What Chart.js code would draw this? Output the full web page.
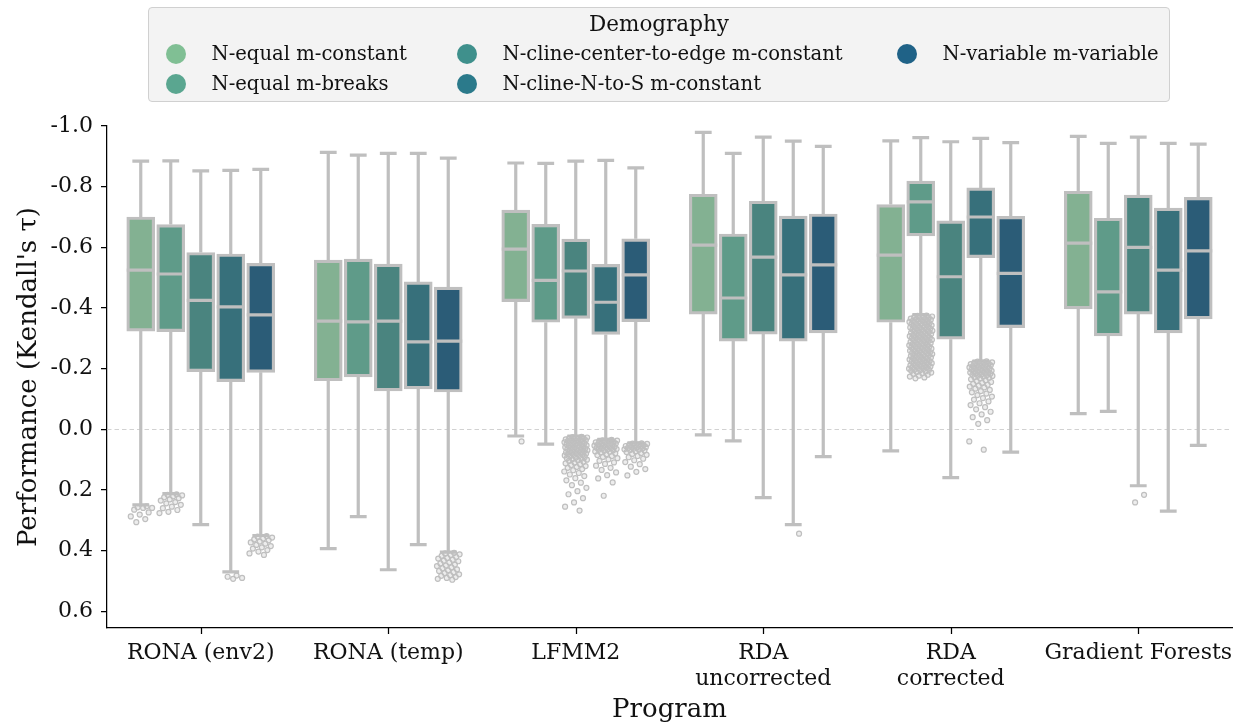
<!DOCTYPE html>
<html>
<head>
<meta charset="utf-8">
<script src="https://cdn.jsdelivr.net/npm/chart.js@4.4.1/dist/chart.umd.min.js"></script>
<style>
  html, body { margin: 0; padding: 0; background: #ffffff; }
  #wrap { position: relative; width: 1242px; height: 725px; }
  #c { position: absolute; left: 0; top: 0; }
  #legend {
    position: absolute; left: 148px; top: 7px; width: 1022px; height: 95px;
    box-sizing: border-box; border: 1.5px solid #d0d0d0; border-radius: 4px;
    background: #f3f3f3; font-family: 'DejaVu Serif', serif; color: #111;
  }
  #legend .title { position: absolute; left: 0; right: 0; top: 3px; text-align: center; font-size: 21.5px; line-height: 26px; }
  #legend .item { position: absolute; display: flex; align-items: center; height: 26px; font-size: 19.6px; white-space: nowrap; }
  #legend .dot { width: 20px; height: 20px; border-radius: 50%; margin-right: 26px; flex: none; }
</style>
</head>
<body>
<div id="wrap">
  <canvas id="c" width="1242" height="725"></canvas>
  <div id="legend"><div class="title">Demography</div></div>
</div>
<script>
// Categories and series
const programs = ['RONA (env2)', 'RONA (temp)', 'LFMM2', ['RDA', 'uncorrected'], ['RDA', 'corrected'], 'Gradient Forests'];
const demographies = ['N-equal m-constant', 'N-equal m-breaks', 'N-cline-center-to-edge m-constant', 'N-cline-N-to-S m-constant', 'N-variable m-variable'];
const yTicks = [-1.0, -0.8, -0.6, -0.4, -0.2, 0.0, 0.2, 0.4, 0.6];

// Box statistics: one row per demography, one column per program
const whiskerLow = [
  [-0.884, -0.913, -0.878, -0.979, -0.951, -0.966],
  [-0.885, -0.904, -0.877, -0.910, -0.962, -0.943],
  [-0.852, -0.910, -0.884, -0.963, -0.948, -0.963],
  [-0.854, -0.910, -0.887, -0.950, -0.959, -0.943],
  [-0.857, -0.894, -0.862, -0.933, -0.945, -0.940]
];
const q1 = [
  [-0.700, -0.558, -0.723, -0.775, -0.741, -0.785],
  [-0.675, -0.561, -0.676, -0.644, -0.818, -0.696],
  [-0.583, -0.545, -0.627, -0.752, -0.687, -0.772],
  [-0.578, -0.486, -0.544, -0.703, -0.796, -0.729],
  [-0.547, -0.469, -0.628, -0.710, -0.702, -0.765]
];
const median = [
  [-0.525, -0.357, -0.594, -0.607, -0.574, -0.614],
  [-0.512, -0.354, -0.491, -0.433, -0.750, -0.453],
  [-0.425, -0.357, -0.522, -0.568, -0.503, -0.600],
  [-0.404, -0.288, -0.419, -0.509, -0.700, -0.525],
  [-0.377, -0.291, -0.509, -0.542, -0.514, -0.588]
];
const q3 = [
  [-0.324, -0.160, -0.421, -0.380, -0.353, -0.397],
  [-0.322, -0.173, -0.353, -0.291, -0.638, -0.308],
  [-0.190, -0.127, -0.366, -0.314, -0.297, -0.380],
  [-0.157, -0.133, -0.313, -0.291, -0.566, -0.318],
  [-0.188, -0.123, -0.355, -0.318, -0.335, -0.364]
];
const whiskerHigh = [
  [0.249, 0.393, 0.022, 0.018, 0.071, -0.052],
  [0.212, 0.288, 0.049, 0.038, -0.378, -0.059],
  [0.314, 0.463, 0.022, 0.225, 0.159, 0.186],
  [0.470, 0.380, 0.033, 0.314, -0.225, 0.270],
  [0.350, 0.405, 0.045, 0.090, 0.075, 0.053]
];

// Outliers, one array per demography, grouped by program
const outRonaEnv2 = [
  [0.254, 0.257, 0.259, 0.259, 0.265, 0.274, 0.281, 0.287, 0.296, 0.306],
  [0.214, 0.216, 0.218, 0.221, 0.224, 0.227, 0.231, 0.235, 0.240, 0.244, 0.249, 0.255, 0.260, 0.266, 0.272, 0.276],
  [],
  [0.482, 0.486, 0.490, 0.493],
  [0.352, 0.354, 0.357, 0.360, 0.363, 0.366, 0.370, 0.373, 0.377, 0.381, 0.385, 0.389, 0.393, 0.398, 0.403, 0.409, 0.414]
];
const outRonaTemp = [
  [], [], [], [],
  [0.407, 0.409, 0.412, 0.414, 0.417, 0.421, 0.424, 0.426, 0.430, 0.433, 0.435, 0.439, 0.442, 0.446, 0.449, 0.451,
   0.455, 0.458, 0.462, 0.465, 0.467, 0.471, 0.474, 0.478, 0.481, 0.483, 0.487, 0.490, 0.493, 0.496]
];
const outLfmm2 = [
  [0.040],
  [],
  [0.025, 0.026, 0.027, 0.028, 0.029, 0.030, 0.032, 0.033, 0.034, 0.035, 0.036, 0.038, 0.039, 0.040, 0.041, 0.043,
   0.044, 0.045, 0.046, 0.048, 0.049, 0.050, 0.051, 0.053, 0.054, 0.055, 0.056, 0.058, 0.059, 0.060, 0.061, 0.063,
   0.064, 0.065, 0.067, 0.068, 0.069, 0.070, 0.072, 0.073, 0.074, 0.076, 0.077, 0.078, 0.080, 0.081, 0.082, 0.084,
   0.085, 0.086, 0.088, 0.089, 0.091, 0.093, 0.095, 0.097, 0.099, 0.100, 0.102, 0.104, 0.107, 0.110, 0.112, 0.115,
   0.118, 0.121, 0.124, 0.127, 0.131, 0.135, 0.139, 0.144, 0.149, 0.154, 0.161, 0.168, 0.176, 0.184, 0.193, 0.204,
   0.214, 0.227, 0.241, 0.255, 0.268],
  [0.035, 0.036, 0.037, 0.038, 0.039, 0.041, 0.042, 0.043, 0.045, 0.046, 0.047, 0.049, 0.050, 0.051, 0.053, 0.054,
   0.055, 0.057, 0.058, 0.059, 0.061, 0.062, 0.063, 0.065, 0.066, 0.067, 0.069, 0.071, 0.073, 0.074, 0.076, 0.079,
   0.082, 0.085, 0.088, 0.091, 0.095, 0.099, 0.104, 0.109, 0.114, 0.120, 0.127, 0.134, 0.142, 0.151, 0.162, 0.175, 0.219],
  [0.046, 0.047, 0.048, 0.050, 0.051, 0.052, 0.054, 0.055, 0.056, 0.058, 0.059, 0.060, 0.062, 0.063, 0.064, 0.066,
   0.067, 0.068, 0.070, 0.072, 0.075, 0.078, 0.081, 0.084, 0.088, 0.092, 0.097, 0.102, 0.108, 0.115, 0.123, 0.131,
   0.140, 0.152]
];
const outRdaUncorrected = [[], [], [], [0.344], []];
const outRdaCorrected = [
  [],
  [-0.375, -0.374, -0.372, -0.371, -0.370, -0.368, -0.367, -0.365, -0.364, -0.363, -0.361, -0.360, -0.358, -0.357,
   -0.356, -0.354, -0.353, -0.351, -0.350, -0.349, -0.347, -0.346, -0.344, -0.343, -0.342, -0.340, -0.339, -0.337,
   -0.336, -0.335, -0.333, -0.332, -0.330, -0.329, -0.328, -0.326, -0.325, -0.323, -0.322, -0.321, -0.319, -0.318,
   -0.316, -0.315, -0.314, -0.312, -0.311, -0.309, -0.308, -0.307, -0.305, -0.304, -0.302, -0.301, -0.300, -0.298,
   -0.297, -0.295, -0.294, -0.293, -0.291, -0.290, -0.288, -0.287, -0.286, -0.284, -0.283, -0.281, -0.280, -0.279,
   -0.277, -0.276, -0.274, -0.273, -0.272, -0.270, -0.269, -0.267, -0.266, -0.265, -0.263, -0.262, -0.260, -0.259,
   -0.258, -0.256, -0.255, -0.253, -0.252, -0.251, -0.249, -0.248, -0.246, -0.245, -0.244, -0.242, -0.241, -0.239,
   -0.238, -0.237, -0.235, -0.234, -0.232, -0.231, -0.230, -0.228, -0.227, -0.225, -0.224, -0.223, -0.221, -0.220,
   -0.218, -0.217, -0.216, -0.214, -0.213, -0.211, -0.210, -0.209, -0.207, -0.206, -0.204, -0.203, -0.202, -0.200,
   -0.199, -0.197, -0.196, -0.195, -0.193, -0.191, -0.189, -0.187, -0.185, -0.183, -0.180, -0.177, -0.174, -0.171,
   -0.168],
  [],
  [-0.224, -0.223, -0.221, -0.220, -0.219, -0.217, -0.216, -0.215, -0.213, -0.212, -0.211, -0.209, -0.208, -0.207,
   -0.205, -0.204, -0.203, -0.201, -0.200, -0.199, -0.197, -0.196, -0.195, -0.193, -0.192, -0.191, -0.189, -0.188,
   -0.187, -0.185, -0.184, -0.183, -0.181, -0.180, -0.179, -0.177, -0.176, -0.174, -0.172, -0.170, -0.168, -0.165,
   -0.162, -0.159, -0.156, -0.153, -0.150, -0.147, -0.144, -0.141, -0.138, -0.134, -0.130, -0.126, -0.122, -0.118,
   -0.113, -0.108, -0.103, -0.098, -0.092, -0.086, -0.080, -0.073, -0.066, -0.058, -0.049, -0.040, -0.030, -0.018,
   0.040, 0.067],
  []
];
const outGradientForests = [[], [], [0.216, 0.241], [], []];
const outliersByProgram = [outRonaEnv2, outRonaTemp, outLfmm2, outRdaUncorrected, outRdaCorrected, outGradientForests];

// Styling
const boxColors = ['#83b192', '#5f9b89', '#4a847f', '#37707b', '#2b5c77'];
const legendColors = ['#80bf94', '#5aa690', '#3f908c', '#2b7a8b', '#1f6287'];
const edgeGray = '#bfbfbf';
const serif = "'DejaVu Serif', serif";

// Each program occupies one unit on the x axis; the five boxes share 80% of it
const slot = 0.8 / demographies.length;
const hueX = (g, h) => g + (h - 2) * slot;

// Bars span the interquartile range
const boxDatasets = demographies.map((name, h) => ({
  type: 'bar',
  label: name,
  hueIndex: h,
  data: programs.map((_, g) => ({ x: hueX(g, h), y: [q1[h][g], q3[h][g]] })),
  backgroundColor: boxColors[h],
  borderColor: edgeGray,
  borderWidth: 3.2,
  borderSkipped: false,
  grouped: false,
  barThickness: 28,
  order: 1
}));

// Outliers, spread sideways by a fixed golden-ratio pattern
const spread = i => (((i + 1) * 0.6180339887 + 0.13) % 1 - 0.5) * 0.125;
const outlierDatasets = demographies.map((name, h) => {
  const pts = [];
  outliersByProgram.forEach((lists, g) => {
    lists[h].forEach((v, i) => pts.push({ x: hueX(g, h) + spread(i), y: v }));
  });
  return {
    type: 'scatter',
    label: name + ' outliers',
    data: pts,
    pointRadius: 2.5,
    pointBorderWidth: 1.2,
    pointBorderColor: edgeGray,
    pointBackgroundColor: 'rgba(191,191,191,0.28)',
    order: 0
  };
});

// Whiskers, caps, medians, the zero reference line and the category tick marks
const boxParts = {
  id: 'boxParts',
  beforeDatasetsDraw(chart) {
    const { ctx, chartArea: a, scales: { y } } = chart;
    const py = Math.round(y.getPixelForValue(0)) + 0.5;
    ctx.save();
    ctx.strokeStyle = '#d2d2d2';
    ctx.lineWidth = 1;
    ctx.setLineDash([4.5, 3]);
    ctx.beginPath();
    ctx.moveTo(a.left, py);
    ctx.lineTo(a.right, py);
    ctx.stroke();
    ctx.restore();
  },
  afterDatasetDraw(chart, args) {
    const ds = chart.data.datasets[args.index];
    if (ds.type !== 'bar') return;
    const h = ds.hueIndex;
    const { ctx, scales: { y } } = chart;
    ctx.save();
    ctx.strokeStyle = edgeGray;
    ctx.lineWidth = 3.2;
    ctx.lineCap = 'butt';
    args.meta.data.forEach((el, g) => {
      const x = el.x, w = el.width, cw = w * 0.6;
      const pLow = y.getPixelForValue(whiskerLow[h][g]);
      const pQ1 = y.getPixelForValue(q1[h][g]);
      const pQ3 = y.getPixelForValue(q3[h][g]);
      const pHigh = y.getPixelForValue(whiskerHigh[h][g]);
      const pMed = y.getPixelForValue(median[h][g]);
      ctx.beginPath();
      ctx.moveTo(x, pQ1); ctx.lineTo(x, pLow);
      ctx.moveTo(x - cw / 2, pLow); ctx.lineTo(x + cw / 2, pLow);
      ctx.moveTo(x, pQ3); ctx.lineTo(x, pHigh);
      ctx.moveTo(x - cw / 2, pHigh); ctx.lineTo(x + cw / 2, pHigh);
      ctx.moveTo(x - w / 2, pMed); ctx.lineTo(x + w / 2, pMed);
      ctx.stroke();
    });
    ctx.restore();
  },
  afterDraw(chart) {
    const { ctx, scales: { x } } = chart;
    ctx.save();
    ctx.strokeStyle = '#000';
    ctx.lineWidth = 1.25;
    ctx.beginPath();
    x.ticks.forEach(t => {
      const px = Math.round(x.getPixelForValue(t.value)) + 0.5;
      ctx.moveTo(px, x.top);
      ctx.lineTo(px, x.top + 6);
    });
    ctx.stroke();
    ctx.restore();
  }
};

new Chart(document.getElementById('c'), {
  type: 'bar',
  data: { datasets: [...boxDatasets, ...outlierDatasets] },
  options: {
    responsive: false,
    animation: false,
    devicePixelRatio: 1,
    layout: { padding: { top: 126, right: 10, bottom: 0, left: 0 } },
    plugins: { legend: { display: false }, tooltip: { enabled: false } },
    scales: {
      x: {
        type: 'linear',
        offset: false,
        min: -0.5,
        max: 5.5,
        afterBuildTicks(s) { s.ticks = programs.map((_, g) => ({ value: g })); },
        grid: { display: false },
        border: { display: true, color: '#000', width: 1.25 },
        ticks: {
          color: '#111', font: { family: serif, size: 22, lineHeight: 1.15 }, padding: 5, maxRotation: 0, autoSkip: false,
          callback: v => programs[Math.round(v)]
        },
        title: { display: true, text: 'Program', color: '#111', font: { family: serif, size: 26 }, padding: { top: 0, bottom: -1 } },
        afterFit(s) { s.height = 97; }
      },
      y: {
        type: 'linear',
        reverse: true,
        min: -1.0,
        max: 0.655,
        afterBuildTicks(s) { s.ticks = yTicks.map(v => ({ value: v })); },
        grid: { display: true, drawOnChartArea: false, drawTicks: true, tickLength: 6, color: '#000', lineWidth: 1.25 },
        border: { display: true, color: '#000', width: 1.25 },
        ticks: {
          color: '#111', font: { family: serif, size: 22 }, padding: 8,
          callback: v => (Math.abs(v) < 1e-9 ? 0 : v).toFixed(1)
        },
        title: { display: true, text: "Performance (Kendall's τ)", color: '#111', font: { family: serif, size: 26 }, padding: { top: 14, bottom: 0 } },
        afterFit(s) { s.width = 107; }
      }
    }
  },
  plugins: [boxParts]
});

// Legend: three columns, filled column by column
const legendEl = document.getElementById('legend');
const colX = [176, 467, 907];
const rowY = [54, 84];
demographies.forEach((name, i) => {
  const c = Math.floor(i / 2), r = i % 2;
  const item = document.createElement('div');
  item.className = 'item';
  item.style.left = (colX[c] - 148 - 1.5 - 10) + 'px';
  item.style.top = (rowY[r] - 7 - 1.5 - 13) + 'px';
  const dot = document.createElement('span');
  dot.className = 'dot';
  dot.style.background = legendColors[i];
  const txt = document.createElement('span');
  txt.textContent = name;
  item.appendChild(dot);
  item.appendChild(txt);
  legendEl.appendChild(item);
});
</script>
</body>
</html>
